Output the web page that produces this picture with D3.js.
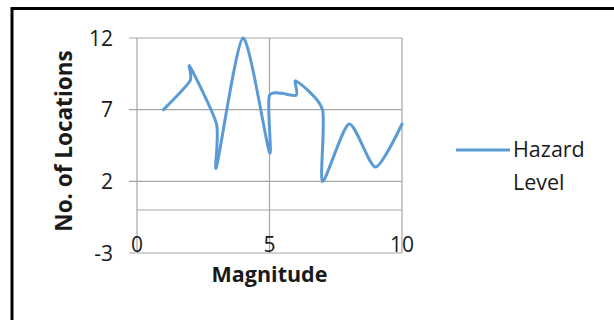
<!DOCTYPE html>
<html>
<head>
<meta charset="utf-8">
<script src="https://cdn.jsdelivr.net/npm/d3@7"></script>
<style>
  html, body { margin: 0; padding: 0; background: #fff; }
  svg { display: block; }
  text { font-family: "Open Sans", Lato, sans-serif; fill: #1a1a1a; }
</style>
</head>
<body>
<svg id="chart" width="614" height="320"></svg>
<script>
// Hazard level: number of locations by magnitude
const magnitude = [1, 2, 2, 3, 3, 4, 5, 5, 6, 6, 7, 7, 8, 9, 10];
const locations = [7, 9, 10, 6, 3, 12, 4, 8, 8, 9, 7, 2, 6, 3, 6];
const xTicks = [0, 5, 10];
const yTicks = [-3, 2, 7, 12];
const seriesName = ["Hazard", "Level"];

const svg = d3.select("#chart");

// outer frame (runs off the right and bottom edges)
svg.append("rect")
  .attr("x", 12).attr("y", 8.5)
  .attr("width", 640).attr("height", 340)
  .attr("fill", "none").attr("stroke", "#000").attr("stroke-width", 3);

const x = d3.scaleLinear().domain([0, 10]).range([137, 402]);
const y = d3.scaleLinear().domain([-3, 12]).range([253, 38]);

const grid = svg.append("g").attr("stroke", "#a6a6a6").attr("stroke-width", 1.2);

// horizontal gridlines with outward ticks
grid.selectAll("line.h").data(yTicks).join("line")
  .attr("x1", x(0) - 8).attr("x2", x(10))
  .attr("y1", d => y(d)).attr("y2", d => y(d));
// horizontal axis at zero
grid.append("line")
  .attr("x1", x(0)).attr("x2", x(10))
  .attr("y1", y(0)).attr("y2", y(0));
// vertical gridlines
grid.selectAll("line.v").data(xTicks).join("line")
  .attr("x1", d => x(d)).attr("x2", d => x(d))
  .attr("y1", y(12)).attr("y2", y(-3));

// y tick labels
svg.selectAll("text.yt").data(yTicks).join("text")
  .attr("x", 113).attr("y", d => y(d))
  .attr("dy", "0.36em")
  .attr("text-anchor", "end")
  .attr("font-size", 21)
  .text(d => d);

// x tick labels sit just above the bottom edge
svg.selectAll("text.xt").data(xTicks).join("text")
  .attr("x", d => x(d)).attr("y", 252)
  .attr("text-anchor", "middle")
  .attr("font-size", 21)
  .text(d => d);

// axis titles
svg.append("text")
  .attr("x", x(5)).attr("y", 282)
  .attr("text-anchor", "middle")
  .attr("font-size", 21.5).attr("font-weight", "bold")
  .text("Magnitude");
svg.append("text")
  .attr("transform", `translate(72,141) rotate(-90)`)
  .attr("text-anchor", "middle")
  .attr("font-size", 22.5).attr("font-weight", "bold")
  .text("No. of Locations");

// smoothed series line
const pts = magnitude.map((m, i) => [m, locations[i]]);
const line = d3.line()
  .x(d => x(d[0])).y(d => y(d[1]))
  .curve(d3.curveCardinal.tension(0.3));
svg.append("path")
  .datum(pts)
  .attr("d", line)
  .attr("fill", "none")
  .attr("stroke", "#5b9bd5")
  .attr("stroke-width", 3)
  .attr("stroke-linejoin", "round")
  .attr("stroke-linecap", "round");

// legend
svg.append("line")
  .attr("x1", 456).attr("x2", 510)
  .attr("y1", 150).attr("y2", 150)
  .attr("stroke", "#5b9bd5").attr("stroke-width", 3);
svg.selectAll("text.lg").data(seriesName).join("text")
  .attr("x", 513).attr("y", (d, i) => 157 + i * 33)
  .attr("font-size", 21.5)
  .text(d => d);
</script>
</body>
</html>
